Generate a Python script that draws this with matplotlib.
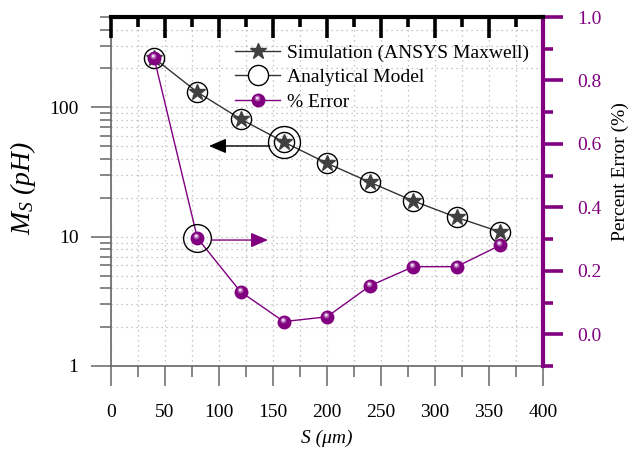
import matplotlib
matplotlib.use("Agg")
import matplotlib.pyplot as plt
from matplotlib.path import Path
from matplotlib.ticker import MultipleLocator, NullFormatter
from matplotlib.legend_handler import HandlerTuple

# fonts: Times-like serif everywhere
plt.rcParams['font.family'] = ['Liberation Serif', 'DejaVu Serif']
plt.rcParams['mathtext.fontset'] = 'custom'
plt.rcParams['mathtext.it'] = 'Liberation Serif:italic'
plt.rcParams['mathtext.rm'] = 'Liberation Serif:italic'

# data
spacing = [40, 80, 120, 160, 200, 240, 280, 320, 360]           # S (um)
ms_simulation = [240, 131, 81.3, 54, 37, 26.3, 18.9, 14.1, 10.9]  # pH
ms_analytical = [240, 131, 81.3, 54, 37, 26.3, 18.9, 14.1, 10.9]  # pH
percent_error = [0.870, 0.303, 0.134, 0.040, 0.055, 0.153, 0.213, 0.213, 0.280]

x_ticks = [0, 50, 100, 150, 200, 250, 300, 350, 400]
ms_ticks = [1, 10, 100]
ms_tick_labels = ['1', '10', '100']
err_ticks = [0.0, 0.2, 0.4, 0.6, 0.8, 1.0]
err_tick_labels = ['0.0', '0.2', '0.4', '0.6', '0.8', '1.0']

# annotation arrows (from, to, level)
left_arrow = (147, 90.7, 50.3)
right_arrow = (93.5, 145.4, 0.297)

PURPLE = '#800080'
STAR_GRAY = '#404040'
AXIS_GRAY = '#666666'


def highlight_marker(cx, cy, r):
    """small offset disc used as the shine on the sphere markers"""
    frame = Path([(-1, -1), (1, 1)], [Path.MOVETO, Path.MOVETO])
    return Path.make_compound_path(frame, Path.circle((cx, cy), r))


shine_outer = highlight_marker(-0.15, 0.3, 0.42)
shine_inner = highlight_marker(-0.18, 0.35, 0.2)

fig = plt.figure(figsize=(6.31, 4.51), dpi=100)
ax1 = fig.add_axes([0.1759, 0.1885, 0.6846, 0.7738])
ax2 = ax1.twinx()

# left axis: mutual inductance
ax1.set_yscale('log')
ax1.set_xlim(0, 400)
ax1.set_ylim(1, 500)
ax1.plot(spacing, ms_simulation, '-', color='#333333', lw=1, zorder=2)
ax1.plot(spacing, ms_simulation, '*', color=STAR_GRAY, ms=12,
         mec=STAR_GRAY, zorder=3)
ax1.plot(spacing, ms_analytical, 'o', ms=14.5, mfc='none',
         mec='k', mew=1, zorder=3)
ax1.plot(spacing[3], ms_analytical[3], 'o', ms=23, mfc='none', mec='k',
         mew=1, zorder=3)
ax1.annotate('', xy=(left_arrow[1], left_arrow[2]),
             xytext=(left_arrow[0], left_arrow[2]),
             arrowprops=dict(arrowstyle='-|>,head_length=0.7,head_width=0.3',
                             color='k', lw=1, mutation_scale=15,
                             shrinkA=0, shrinkB=0))

ax1.set_xticks(x_ticks)
ax1.xaxis.set_minor_locator(MultipleLocator(25))
ax1.set_yticks(ms_ticks, ms_tick_labels)
ax1.yaxis.set_minor_formatter(NullFormatter())
ax1.tick_params(which='major', direction='out', length=14.4, width=1.1,
                color=AXIS_GRAY, labelsize=14, pad=9)
ax1.tick_params(which='minor', direction='out', length=8, width=1.1,
                color=AXIS_GRAY)
ax1.tick_params(axis='x', which='major', pad=13)
ax1.grid(True, which='both', color='#b5b5b5', lw=0.9, ls=(0, (1, 3)))
for side in ['left', 'bottom']:
    ax1.spines[side].set_color(AXIS_GRAY)
    ax1.spines[side].set_linewidth(1.2)
ax1.spines['right'].set_visible(False)
ax1.spines['top'].set_visible(False)

ax1.set_xlabel('S (μm)', fontsize=14, fontstyle='italic')
ax1.xaxis.set_label_coords(0.5, -0.183)
ax1.set_ylabel(r'$M_S\ (pH)$', fontsize=20)
ax1.yaxis.set_label_coords(-0.17, 0.509)

# right axis: percent error
ax2.set_ylim(-0.1, 1.0)
err_line, = ax2.plot(spacing, percent_error, '-', color=PURPLE, lw=1)
err_h, = ax2.plot(spacing, percent_error, 'o', color=PURPLE, ms=10, mew=0)
sh1, = ax2.plot(spacing, percent_error, ls='none', marker=shine_outer,
                ms=10, color='#b060b0', mew=0)
sh2, = ax2.plot(spacing, percent_error, ls='none', marker=shine_inner,
                ms=10, color='#f4e0f4', mew=0)
ax2.plot(spacing[1], percent_error[1], 'o', ms=20, mfc='none', mec='k',
         mew=1)
ax2.annotate('', xy=(right_arrow[1], right_arrow[2]),
             xytext=(right_arrow[0], right_arrow[2]),
             arrowprops=dict(arrowstyle='-|>,head_length=0.7,head_width=0.3',
                             color=PURPLE, lw=1, mutation_scale=15,
                             shrinkA=0, shrinkB=0))

ax2.set_yticks(err_ticks, err_tick_labels)
ax2.yaxis.set_minor_locator(MultipleLocator(0.1))
ax2.tick_params(axis='y', which='major', direction='out', length=14.4,
                width=2.6, color=PURPLE, labelcolor=PURPLE, labelsize=14,
                pad=10)
ax2.tick_params(axis='y', which='minor', direction='out', length=7.2,
                width=2.6, color=PURPLE)

# thick black top axis with inward ticks (on the twin's shared x axis)
ax2.xaxis.set_visible(True)
ax2.tick_params(axis='x', which='both', bottom=False, labelbottom=False,
                top=True, labeltop=False, direction='in', width=2.6,
                color='k')
ax2.tick_params(axis='x', which='major', length=15)
ax2.tick_params(axis='x', which='minor', length=7.5)
for side in ['left', 'bottom']:
    ax2.spines[side].set_visible(False)
ax2.spines['top'].set_color('k')
ax2.spines['top'].set_linewidth(3)
ax2.spines['right'].set_color(PURPLE)
ax2.spines['right'].set_linewidth(3)
ax2.set_ylabel('Percent Error (%)', fontsize=14, rotation=90)
ax2.yaxis.set_label_coords(1.158, 0.556)

# legend
sim_leg = plt.Line2D([], [], color='#333333', lw=1, marker='*', ms=12,
                     mfc=STAR_GRAY, mec=STAR_GRAY)
ana_leg = plt.Line2D([], [], color='#333333', lw=1, marker='o', ms=14.5,
                     mfc='white', mec='k', mew=1)
ax2.legend([sim_leg, ana_leg, (err_line, err_h, sh1, sh2)],
           ['Simulation (ANSYS Maxwell)', 'Analytical Model', '% Error'],
           handler_map={tuple: HandlerTuple(ndivide=1)},
           loc='upper left', bbox_to_anchor=(0.27, 0.945), frameon=False,
           fontsize=14, handlelength=2.3, handletextpad=0.35,
           labelspacing=0.36, borderaxespad=0)

fig.savefig('out.png', dpi=100)
